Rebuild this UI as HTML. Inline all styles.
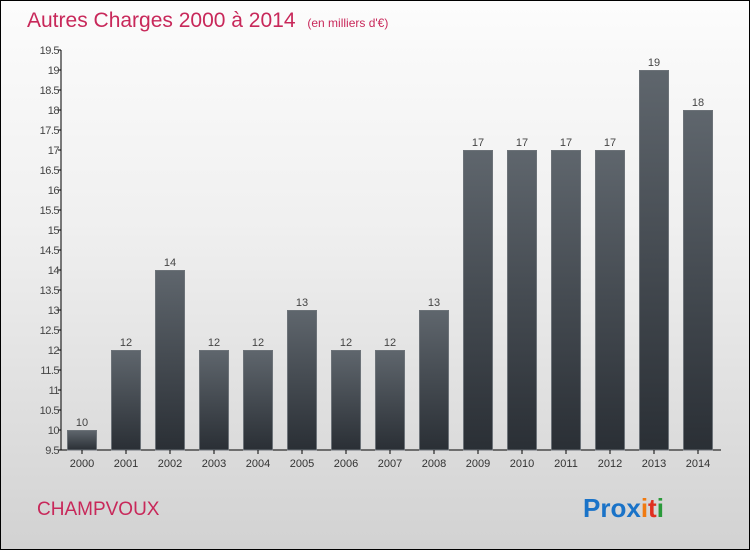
<!DOCTYPE html>
<html><head><meta charset="utf-8"><style>
body{margin:0}
#wrap{position:relative;width:748px;height:548px;border:1px solid #000;background:linear-gradient(#fcfcfc,#f0f0f0 40%,#d2d2d2);font-family:"Liberation Sans",sans-serif;overflow:hidden}
</style></head><body>
<div id="wrap">
<svg id="chart" width="748" height="548">
<defs><linearGradient id="bg" x1="0" y1="0" x2="0" y2="1"><stop offset="0" stop-color="#5f666d"/><stop offset="1" stop-color="#2a2f35"/></linearGradient></defs>
<text x="26" y="26" font-size="21" fill="#c8285a">Autres Charges 2000 à 2014 <tspan font-size="12" dx="6">(en milliers d'€)</tspan></text>
<text x="36" y="514" font-size="19" fill="#c8285a">CHAMPVOUX</text>
<text x="582" y="516" font-size="26" font-weight="bold"><tspan fill="#1a73c8">Pro</tspan><tspan fill="#1a73c8">x</tspan><tspan fill="#f07a10">i</tspan><tspan fill="#e03020">t</tspan><tspan fill="#2a9a3a">i</tspan></text>
</svg>
</div>
<script>
const years=["2000","2001","2002","2003","2004","2005","2006","2007","2008","2009","2010","2011","2012","2013","2014"];
const values=[10,12,14,12,12,13,12,12,13,17,17,17,17,19,18];
const ticks=[9.5,10,10.5,11,11.5,12,12.5,13,13.5,14,14.5,15,15.5,16,16.5,17,17.5,18,18.5,19,19.5];
const svg=document.getElementById('chart');const NS="http://www.w3.org/2000/svg";
const y=v=>449-(v-9.5)*40;const x=i=>81+44*i;
function mk(t,a){const e=document.createElementNS(NS,t);for(const k in a)e.setAttribute(k,a[k]);svg.appendChild(e);return e;}
let ax=mk('line',{x1:60,y1:49,x2:60,y2:449,stroke:'#000'});


let bx=mk('line',{x1:60,y1:449,x2:720,y2:449,stroke:'#000'});


ticks.forEach(t=>{
 let l=mk('line',{x1:57,y1:y(t),x2:60,y2:y(t),stroke:'#000'});
 
 
 let tx=mk('text',{x:58,y:y(t)+4,'font-size':11,'text-anchor':'end',fill:'#444','letter-spacing':'-0.5'});tx.textContent=String(t);
 
 
});
years.forEach((yr,i)=>{
 const v=values[i];
 let r=mk('rect',{x:x(i)-14.5,y:y(v)+0.5,width:29,height:448.5-y(v),fill:'url(#bg)',stroke:'#6c7278','stroke-width':1});
 
 
 let vl=mk('text',{x:x(i),y:y(v)-4,'font-size':11,'text-anchor':'middle',fill:'#444'});vl.textContent=v;
 
 
 let tk=mk('line',{x1:x(i),y1:449,x2:x(i),y2:453,stroke:'#000'});
 
 
 let xl=mk('text',{x:x(i),y:466,'font-size':11,'text-anchor':'middle',fill:'#333'});xl.textContent=yr;
 
 
});
</script>
</body></html>
